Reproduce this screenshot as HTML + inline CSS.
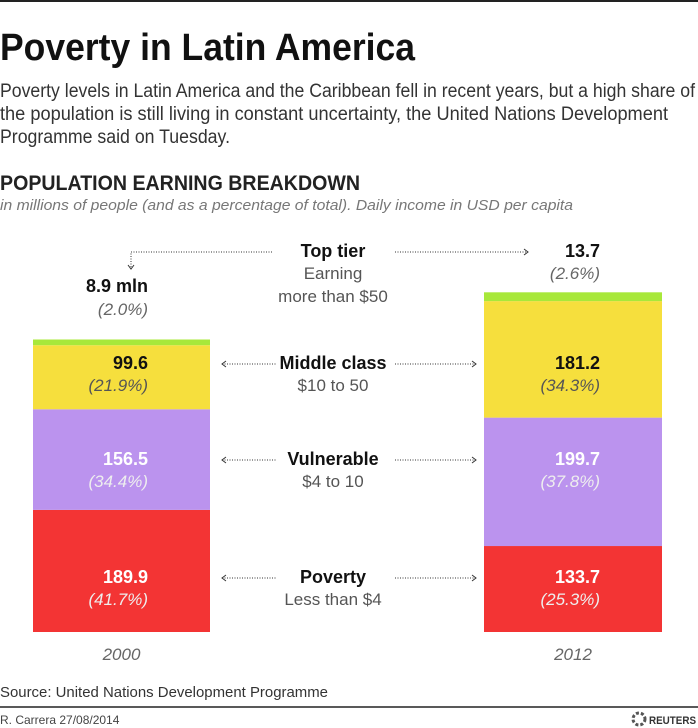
<!DOCTYPE html>
<html><head><meta charset="utf-8"><style>
body{margin:0;background:#fff;width:698px;height:728px;overflow:hidden}
svg{display:block}
text{font-family:"Liberation Sans Narrow","Liberation Sans",sans-serif}
</style></head><body>
<svg id="c" width="698" height="728">
<line x1="0" y1="1" x2="698" y2="1" stroke="#222" stroke-width="2"/>
<text x="0" y="60" font-size="38" font-weight="bold" fill="#111" textLength="415" lengthAdjust="spacingAndGlyphs">Poverty in Latin America</text>
<g font-size="19" fill="#333">
<text x="0" y="97" textLength="695" lengthAdjust="spacingAndGlyphs">Poverty levels in Latin America and the Caribbean fell in recent years, but a high share of</text>
<text x="0" y="120" textLength="668" lengthAdjust="spacingAndGlyphs">the population is still living in constant uncertainty, the United Nations Development</text>
<text x="0" y="143" textLength="230" lengthAdjust="spacingAndGlyphs">Programme said on Tuesday.</text>
</g>
<text x="0" y="190" font-size="21" font-weight="bold" fill="#222" textLength="360" lengthAdjust="spacingAndGlyphs">POPULATION EARNING BREAKDOWN</text>
<text x="0" y="210" font-size="15" font-style="italic" fill="#777" textLength="573" lengthAdjust="spacingAndGlyphs">in millions of people (and as a percentage of total). Daily income in USD per capita</text>
<g id="bars"></g>
<g id="labels"></g>
<text x="0" y="697" font-size="15" fill="#333" textLength="328" lengthAdjust="spacingAndGlyphs">Source: United Nations Development Programme</text>
<line x1="0" y1="707" x2="698" y2="707" stroke="#222" stroke-width="1.5"/>
<text x="0" y="724" font-size="12" fill="#444">R. Carrera 27/08/2014</text>
<g><circle cx="639" cy="719" r="6" fill="none" stroke="#555" stroke-width="3" stroke-dasharray="3 2"/><text x="649" y="724" font-size="11" font-weight="bold" fill="#333" textLength="47" lengthAdjust="spacingAndGlyphs">REUTERS</text></g>
</svg>
<script>
const years=["2000","2012"];
const tiers=["Poverty","Vulnerable","Middle class","Top tier"];
const values2000=[189.9,156.5,99.6,8.9];
const values2012=[133.7,199.7,181.2,13.7];
const pct2000=["41.7%","34.4%","21.9%","2.0%"];
const pct2012=["25.3%","37.8%","34.3%","2.6%"];
const colors=["#f33434","#bb93ee","#f6df3d","#a8e83a"];
const NS="http://www.w3.org/2000/svg";
const base=632,scale=0.643;
const y=v=>v*scale;
function mk(t,a,p){const e=document.createElementNS(NS,t);for(const k in a)e.setAttribute(k,a[k]);p.appendChild(e);return e;}
const bars=document.getElementById('bars');
const lab=document.getElementById('labels');
const barX=[33,484],barW=[177,178],valX=[148,600];
[values2000,values2012].forEach((vals,i)=>{
 let cur=base;
 vals.forEach((v,j)=>{
  const h=y(v);cur-=h;
  const r=mk('rect',{x:barX[i],y:cur,width:barW[i],height:h,fill:colors[j]},bars);
  
  
 });
 const yt=mk('text',{x:barX[i]+barW[i]/2,y:660,'font-size':17,'font-style':'italic',fill:'#666','text-anchor':'middle'},lab);
 yt.textContent=years[i];
 
 
});
const rowY=[583,465,369];
const sub=["Less than $4","$4 to 10","$10 to 50"];
[values2000,values2012].forEach((vals,i)=>{
 const pc=i?pct2012:pct2000;
 for(let j=0;j<3;j++){
  const light=j<2;
  const t=mk('text',{x:valX[i],y:rowY[j],'font-size':18,'font-weight':'bold',fill:light?'#fff':'#111','text-anchor':'end'},lab);
  t.textContent=vals[j].toFixed(1);
  
  
  const p=mk('text',{x:valX[i],y:rowY[j]+22,'font-size':17,'font-style':'italic',fill:light?'#eee':'#555','text-anchor':'end'},lab);
  p.textContent='('+pc[j]+')';
  
  
 }
});
const t1=mk('text',{x:148,y:292,'font-size':18,'font-weight':'bold',fill:'#111','text-anchor':'end'},lab);
t1.textContent=values2000[3].toFixed(1)+' mln';


const p1=mk('text',{x:148,y:315,'font-size':17,'font-style':'italic',fill:'#666','text-anchor':'end'},lab);
p1.textContent='('+pct2000[3]+')';


const t2=mk('text',{x:600,y:257,'font-size':18,'font-weight':'bold',fill:'#111','text-anchor':'end'},lab);
t2.textContent=values2012[3].toFixed(1);


const p2=mk('text',{x:600,y:279,'font-size':17,'font-style':'italic',fill:'#666','text-anchor':'end'},lab);
p2.textContent='('+pct2012[3]+')';


const catY=[583,465,369,257];
tiers.forEach((n,j)=>{
 const t=mk('text',{x:333,y:catY[j],'font-size':18,'font-weight':'bold',fill:'#111','text-anchor':'middle'},lab);
 t.textContent=n;
 
 
 const subs=j<3?[sub[j]]:["Earning","more than $50"];
 subs.forEach((s,k)=>{
  const st=mk('text',{x:333,y:catY[j]+22+k*23,'font-size':17,fill:'#555','text-anchor':'middle'},lab);
  st.textContent=s;
  
  
 });
 const ay=catY[j]-5;
 const ds={stroke:'#333','stroke-width':1,'stroke-dasharray':'1 1.5',fill:'none'};
 let g=mk('g',{},lab);
 
 
 if(j<3){
  mk('line',Object.assign({x1:222,y1:ay,x2:277,y2:ay},ds),g);
  mk('path',{d:`M226 ${ay-3}L222 ${ay}L226 ${ay+3}`,stroke:'#333',fill:'none'},g);
  mk('line',Object.assign({x1:395,y1:ay,x2:476,y2:ay},ds),g);
  mk('path',{d:`M472 ${ay-3}L476 ${ay}L472 ${ay+3}`,stroke:'#333',fill:'none'},g);
 }else{
  mk('path',Object.assign({d:`M272 ${ay}H131V268`},ds),g);
  mk('path',{d:`M128 265L131 269L134 265`,stroke:'#333',fill:'none'},g);
  mk('line',Object.assign({x1:395,y1:ay,x2:528,y2:ay},ds),g);
  mk('path',{d:`M524 ${ay-3}L528 ${ay}L524 ${ay+3}`,stroke:'#333',fill:'none'},g);
 }
});
</script>
</body></html>
